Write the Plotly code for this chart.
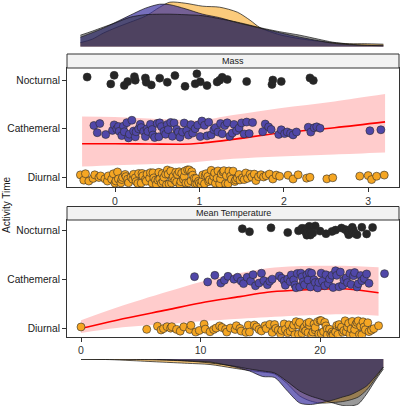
import plotly.graph_objects as go

# ---------------- data ----------------
categories = ["Diurnal", "Cathemeral", "Nocturnal"]
cat_pos = [1, 2, 3]

mass_diurnal = [-0.41, -0.37, -0.35, -0.31, -0.26, -0.24, -0.19, -0.17, -0.12, -0.09, -0.08, -0.04, -0.02, 0.00, 0.01,
                0.03, 0.04, 0.07, 0.08, 0.09, 0.12, 0.13, 0.15, 0.16, 0.19, 0.21, 0.22, 0.24, 0.25, 0.27, 0.28, 0.31,
                0.32, 0.33, 0.36, 0.37, 0.38, 0.41, 0.42, 0.44, 0.45, 0.46, 0.48, 0.49, 0.51, 0.52, 0.53, 0.55, 0.56,
                0.57, 0.58, 0.60, 0.61, 0.62, 0.63, 0.64, 0.66, 0.67, 0.68, 0.69, 0.71, 0.72, 0.73, 0.74, 0.76, 0.77,
                0.78, 0.79, 0.81, 0.82, 0.83, 0.84, 0.86, 0.87, 0.88, 0.90, 0.91, 0.92, 0.94, 0.95, 0.96, 0.97, 0.99,
                1.00, 1.02, 1.03, 1.04, 1.06, 1.07, 1.08, 1.10, 1.11, 1.12, 1.14, 1.15, 1.17, 1.18, 1.19, 1.21, 1.22,
                1.24, 1.25, 1.26, 1.28, 1.29, 1.31, 1.32, 1.34, 1.35, 1.37, 1.38, 1.40, 1.42, 1.43, 1.45, 1.47, 1.48,
                1.51, 1.53, 1.55, 1.57, 1.60, 1.62, 1.65, 1.67, 1.70, 1.73, 1.76, 1.79, 1.83, 1.87, 1.91, 1.95,
                2.05, 2.11, 2.17, 2.27, 2.31, 2.51, 2.58, 2.90, 3.00, 3.04, 3.10, 3.19]
mass_cathemeral = [-0.25, -0.21, -0.18, -0.11, -0.03, -0.01, 0.02, 0.04, 0.05, 0.08, 0.10, 0.11, 0.14, 0.16, 0.17,
                   0.20, 0.22, 0.24, 0.25, 0.28, 0.30, 0.31, 0.34, 0.36, 0.38, 0.39, 0.42, 0.44, 0.45, 0.47, 0.50,
                   0.52, 0.53, 0.55, 0.58, 0.60, 0.62, 0.63, 0.66, 0.68, 0.70, 0.73, 0.75, 0.77, 0.80, 0.82, 0.85,
                   0.87, 0.90, 0.92, 0.95, 0.98, 1.01, 1.03, 1.06, 1.09, 1.11, 1.14, 1.17, 1.19, 1.22, 1.25, 1.27,
                   1.30, 1.33, 1.36, 1.39, 1.41, 1.44, 1.47, 1.50, 1.53, 1.56, 1.59, 1.63, 1.75, 1.78, 1.82, 1.85,
                   1.94, 1.97, 2.01, 2.04, 2.08, 2.11, 2.15, 2.29, 2.32, 2.36, 2.39, 2.43, 3.02, 3.15]
mass_nocturnal = [-0.33, -0.05, -0.01, 0.11, 0.15, 0.23, 0.24, 0.36, 0.37, 0.43, 0.53, 0.62, 0.71, 0.83, 0.95,
                  0.97, 1.01, 1.09, 1.21, 1.24, 1.27, 1.33, 1.56, 1.86, 1.87, 1.97, 2.31, 2.35]

temp_diurnal = [0.0, 5.5, 6.4, 6.7, 6.9, 7.2, 7.5, 7.6, 8.0, 8.3, 8.6, 9.1, 9.2, 9.6, 9.9, 10.3, 10.4, 10.8, 11.1,
                11.3, 11.6, 11.8, 12.1, 12.2, 12.5, 12.9, 13.0, 13.3, 13.4, 13.8, 14.0, 14.1, 14.5, 14.7, 14.9,
                15.1, 15.4, 15.5, 15.8, 16.0, 16.2, 16.3, 16.5, 16.7, 16.8, 17.0, 17.1, 17.3, 17.4, 17.5, 17.7,
                17.8, 17.9, 18.0, 18.2, 18.2, 18.3, 18.5, 18.6, 18.7, 18.8, 18.9, 19.0, 19.1, 19.1, 19.3, 19.4,
                19.5, 19.6, 19.6, 19.8, 19.9, 20.0, 20.1, 20.1, 20.3, 20.4, 20.5, 20.6, 20.6, 20.8, 20.9, 21.0,
                21.1, 21.1, 21.3, 21.4, 21.5, 21.6, 21.6, 21.8, 21.9, 22.0, 22.1, 22.2, 22.3, 22.4, 22.5, 22.6,
                22.7, 22.8, 22.9, 23.0, 23.1, 23.2, 23.3, 23.4, 23.5, 23.6, 23.7, 23.8, 24.0, 24.1, 24.3, 24.5, 24.9]
temp_cathemeral = [9.5, 10.6, 11.2, 11.7, 12.0, 12.3, 12.8, 13.1, 13.4, 13.6, 13.9, 14.2, 14.4, 14.6, 14.9, 15.1,
                   15.3, 15.6, 15.8, 16.0, 16.6, 16.8, 17.0, 17.1, 17.3, 17.5, 17.6, 17.8, 17.9, 18.0, 18.1, 18.3,
                   18.4, 18.5, 18.6, 18.7, 18.9, 19.0, 19.1, 19.2, 19.3, 19.5, 19.6, 19.8, 19.9, 20.1, 20.2, 20.4,
                   20.5, 20.7, 20.8, 21.0, 21.1, 21.3, 21.4, 21.6, 21.7, 21.9, 22.0, 22.2, 22.3, 22.5, 22.6, 22.8,
                   22.9, 23.1, 23.2, 23.4, 23.5, 23.7, 23.9, 24.1, 25.4]
temp_nocturnal = [13.5, 14.1, 15.9, 17.3, 18.2, 18.5, 18.6, 18.7, 18.8, 18.9, 19.0, 19.1, 19.1, 19.2, 19.4, 19.6,
                  20.0, 20.5, 21.0, 21.3, 21.8, 22.1, 22.3, 22.4, 22.5, 22.6, 22.7, 22.8, 22.9, 23.1, 23.5, 23.9, 24.4]

# fitted trend (category scale: Diurnal=1, Cathemeral=2, Nocturnal=3)
mass_fit_x = [-0.39, 0.0, 0.4, 0.8, 1.0, 1.4, 1.95, 2.6, 3.2]
mass_fit_y = [1.69, 1.69, 1.685, 1.68, 1.70, 1.78, 1.91, 2.02, 2.14]
mass_fit_hi = [2.25, 2.24, 2.21, 2.18, 2.17, 2.28, 2.42, 2.56, 2.71]
mass_fit_lo = [1.22, 1.25, 1.27, 1.29, 1.32, 1.38, 1.43, 1.47, 1.51]

temp_fit_x = [0, 3, 7.2, 10, 13.3, 15.6, 18, 20, 22, 24.9]
temp_fit_y = [0.99, 1.16, 1.37, 1.51, 1.64, 1.73, 1.77, 1.79, 1.80, 1.72]
temp_fit_hi = [1.16, 1.42, 1.74, 1.94, 2.12, 2.22, 2.26, 2.27, 2.27, 2.24]
temp_fit_lo = [0.90, 1.00, 1.08, 1.14, 1.19, 1.22, 1.25, 1.27, 1.28, 1.25]

# marginal densities
mass_dens_x = [-0.41, -0.27, -0.14, 0.01, 0.18, 0.36, 0.53, 0.65, 0.83, 1.04, 1.24, 1.45, 1.60, 1.72, 1.95,
               2.19, 2.41, 2.58, 2.78, 2.96, 3.18]
mass_dens_diurnal = [0.04, 0.075, 0.135, 0.19, 0.245, 0.305, 0.395, 0.445, 0.435, 0.405, 0.395, 0.345, 0.265,
                     0.19, 0.12, 0.08, 0.055, 0.04, 0.03, 0.03, 0.025]
mass_dens_cathemeral = [0.095, 0.14, 0.185, 0.245, 0.315, 0.385, 0.425, 0.42, 0.38, 0.325, 0.29, 0.24, 0.21,
                        0.185, 0.14, 0.095, 0.06, 0.035, 0.02, 0.015, 0.015]
mass_dens_nocturnal = [0.115, 0.155, 0.195, 0.24, 0.295, 0.32, 0.325, 0.325, 0.32, 0.31, 0.28, 0.245, 0.215,
                       0.19, 0.15, 0.115, 0.075, 0.045, 0.025, 0.015, 0.008]

temp_dens_x = [0.0, 2.4, 4.1, 6.6, 8.9, 10.8, 12.7, 14.1, 15.2, 16.2, 17.2, 18.3, 19.2, 20.0, 21.1, 21.9, 22.5,
               23.2, 23.9, 24.6, 25.3]
temp_dens_diurnal = [0.003, 0.006, 0.015, 0.03, 0.043, 0.055, 0.09, 0.115, 0.13, 0.15, 0.24, 0.37, 0.42, 0.44,
                     0.435, 0.425, 0.41, 0.38, 0.31, 0.20, 0.08]
temp_dens_cathemeral = [0.0, 0.001, 0.003, 0.01, 0.02, 0.03, 0.075, 0.12, 0.175, 0.185, 0.31, 0.44, 0.455, 0.44,
                        0.41, 0.38, 0.36, 0.32, 0.27, 0.18, 0.08]
temp_dens_nocturnal = [0.0, 0.0, 0.001, 0.005, 0.02, 0.04, 0.07, 0.10, 0.12, 0.14, 0.22, 0.32, 0.37, 0.40, 0.44,
                       0.465, 0.47, 0.45, 0.35, 0.22, 0.10]

x_tick_mass = [0, 1, 2, 3]
x_tick_temp = [0, 10, 20]

# ---------------- style ----------------
W, H = 400, 406
point_colors = {"Diurnal": "#F5A623", "Cathemeral": "#5047A8", "Nocturnal": "#262626"}
dens_colors = {"Diurnal": "rgba(249,168,37,0.6)", "Cathemeral": "rgba(60,50,160,0.7)",
               "Nocturnal": "rgba(30,30,30,0.45)"}
jit_width = {"Diurnal": 0.32, "Cathemeral": 0.40, "Nocturnal": 0.30}
FONT = "Liberation Sans, Arial, sans-serif"


def py(px):
    return 1 - px / H


panel_x = [67 / W, 399 / W]
mass_y_dom = [py(187.3), py(68)]
temp_y_dom = [py(336.7), py(220)]
mass_xr = [(67 - 115) / 84.4, (399 - 115) / 84.4]
temp_xr = [(67 - 81) / 11.95, (399 - 81) / 11.95]
mass_yr = [1 - (187.3 - 177.3) / 48.6, 3 + (80 - 68) / 48.6]
temp_yr = [1 - (336.7 - 328) / 49, 3 + (230 - 220) / 49]

fig = go.Figure()

panels = [
    ("x", "y", "y5", mass_fit_x, mass_fit_y, mass_fit_lo, mass_fit_hi,
     {"Diurnal": mass_diurnal, "Cathemeral": mass_cathemeral, "Nocturnal": mass_nocturnal}),
    ("x2", "y2", "y6", temp_fit_x, temp_fit_y, temp_fit_lo, temp_fit_hi,
     {"Diurnal": temp_diurnal, "Cathemeral": temp_cathemeral, "Nocturnal": temp_nocturnal}),
]
for xa, ya, yo, fx, fy, flo, fhi, groups in panels:
    fig.add_trace(go.Scatter(x=fx, y=flo, mode="lines", line=dict(width=0, shape="spline"),
                             xaxis=xa, yaxis=ya, showlegend=False, hoverinfo="skip"))
    fig.add_trace(go.Scatter(x=fx, y=fhi, mode="lines", line=dict(width=0, shape="spline"),
                             fill="tonexty", fillcolor="rgba(255,0,0,0.2)",
                             xaxis=xa, yaxis=ya, showlegend=False, hoverinfo="skip"))
    fig.add_trace(go.Scatter(x=fx, y=fy, mode="lines", line=dict(color="#FF0000", width=1.6, shape="spline"),
                             xaxis=xa, yaxis=ya, showlegend=False, hoverinfo="skip"))
    for cat, pos in zip(categories, cat_pos):
        fig.add_trace(go.Box(
            x=groups[cat], y0=pos, orientation="h", boxpoints="all", jitter=1, pointpos=0,
            width=jit_width[cat], fillcolor="rgba(0,0,0,0)",
            line=dict(width=0, color="rgba(0,0,0,0)"), whiskerwidth=0,
            marker=dict(size=8, color=point_colors[cat], opacity=1,
                        line=dict(color="#2b2b2b", width=0.6)),
            xaxis=xa, yaxis=yo, showlegend=False, hoveron="points", name=cat))

# marginal densities
for xa, ya, dx, dens in [
    ("x3", "y3", mass_dens_x, {"Diurnal": mass_dens_diurnal, "Cathemeral": mass_dens_cathemeral,
                               "Nocturnal": mass_dens_nocturnal}),
    ("x4", "y4", temp_dens_x, {"Diurnal": temp_dens_diurnal, "Cathemeral": temp_dens_cathemeral,
                               "Nocturnal": temp_dens_nocturnal}),
]:
    for cat in categories:
        fig.add_trace(go.Scatter(x=dx, y=dens[cat], mode="lines", fill="tozeroy",
                                 fillcolor=dens_colors[cat],
                                 line=dict(color="#111111", width=0.7, shape="spline", smoothing=0.8),
                                 xaxis=xa, yaxis=ya, showlegend=False, hoverinfo="skip"))

axis_common = dict(showgrid=False, zeroline=False, showline=True, linecolor="#333333", linewidth=1,
                   mirror=True, ticks="outside", ticklen=4, tickwidth=1, tickcolor="#333333")
xfont = dict(family=FONT, size=10.5, color="#333333")
yfont = dict(family=FONT, size=10.2, color="#1a1a1a")

fig.update_layout(
    width=W, height=H, margin=dict(l=0, r=0, t=0, b=0),
    paper_bgcolor="white", plot_bgcolor="rgba(0,0,0,0)", boxmode="overlay",
    xaxis=dict(domain=panel_x, range=mass_xr, anchor="y", tickvals=x_tick_mass, tickfont=xfont, **axis_common),
    yaxis=dict(domain=mass_y_dom, range=mass_yr, anchor="x", tickvals=cat_pos, ticktext=categories,
               tickfont=yfont, **axis_common),
    yaxis5=dict(overlaying="y", range=mass_yr, anchor="x", visible=False),
    xaxis2=dict(domain=panel_x, range=temp_xr, anchor="y2", tickvals=x_tick_temp, tickfont=xfont, **axis_common),
    yaxis2=dict(domain=temp_y_dom, range=temp_yr, anchor="x2", tickvals=cat_pos, ticktext=categories,
                tickfont=yfont, **axis_common),
    yaxis6=dict(overlaying="y2", range=temp_yr, anchor="x2", visible=False),
    xaxis3=dict(domain=panel_x, range=mass_xr, anchor="y3", visible=False),
    yaxis3=dict(domain=[py(46.7), 1], range=[0, 0.467], anchor="x3", visible=False),
    xaxis4=dict(domain=panel_x, range=temp_xr, anchor="y4", visible=False),
    yaxis4=dict(domain=[0, py(359)], range=[0.47, 0], anchor="x4", visible=False),
)

# facet strips
for y0, y1, label in [(54, 68, "Mass"), (206.5, 220, "Mean Temperature")]:
    fig.add_shape(type="rect", xref="paper", yref="paper", x0=panel_x[0], x1=panel_x[1],
                  y0=py(y1), y1=py(y0), fillcolor="#F2F2F2", line=dict(color="#333333", width=1))
    fig.add_annotation(text=label, xref="paper", yref="paper", x=(panel_x[0] + panel_x[1]) / 2,
                       y=py((y0 + y1) / 2), showarrow=False, xanchor="center", yanchor="middle",
                       font=dict(family=FONT, size=9, color="#1a1a1a"))

fig.add_annotation(text="Activity Time", xref="paper", yref="paper", x=6 / W, y=py(205),
                   textangle=-90, showarrow=False, xanchor="center", yanchor="middle",
                   font=dict(family=FONT, size=10, color="#1a1a1a"))

fig.write_html("out.html", config={"displayModeBar": False},
               post_script="document.body.style.margin='0';document.body.style.overflow='hidden';")
